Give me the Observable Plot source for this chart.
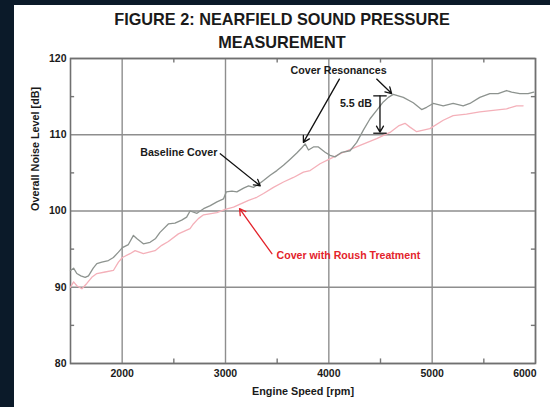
<!DOCTYPE html>
<html>
<head>
<meta charset="utf-8">
<script src="https://cdn.jsdelivr.net/npm/d3@7"></script>
<script src="https://cdn.jsdelivr.net/npm/@observablehq/plot@0.6"></script>
<style>
  html, body { margin: 0; padding: 0; background: #0b1a29; width: 550px; height: 407px; overflow: hidden; }
  #panel { position: absolute; left: 14px; top: 5px; width: 536px; height: 402px; background: #fff; }
  #title { position: absolute; left: 0; top: 3px; width: 536px; text-align: center;
           font-family: "Liberation Sans", Arial, sans-serif; font-weight: bold; font-size: 16.3px;
           line-height: 23px; color: #1a1a1a; }
  #chart { position: absolute; left: 0; top: 48px; }
  #chart svg text { font-weight: bold; }
</style>
</head>
<body>
<div id="panel">
  <div id="title">FIGURE 2: NEARFIELD SOUND PRESSURE<br>MEASUREMENT</div>
  <div id="chart"></div>
</div>
<script>
// ---- data ----
const baselineRpm = [1500,1530,1561,1600,1642,1674,1720,1755,1803,1867,1915,1964,2002,2060,2109,2141,2205,2270,2324,2366,2447,2511,2576,2624,2657,2724,2788,2853,2917,2981,3007,3062,3110,3175,3223,3271,3320,3368,3432,3497,3561,3626,3690,3739,3771,3803,3851,3899,3964,4012,4060,4125,4205,4270,4334,4399,4463,4527,4576,4624,4721,4817,4898,4946,5010,5107,5203,5300,5365,5461,5558,5638,5720,5769,5848,5928,5983];
const baselineDb  = [92.2,92.5,91.8,91.5,91.3,91.5,92.5,93.1,93.3,93.5,93.9,94.6,95.2,95.6,96.8,96.4,95.7,95.9,96.4,97.2,98.3,98.4,98.8,99.2,100.0,99.7,100.3,100.7,101.2,101.6,102.5,102.6,102.5,103.0,103.3,103.1,103.5,104.0,104.7,105.3,106.0,106.8,107.6,108.3,108.8,108.0,108.4,108.4,107.7,107.3,107.1,107.7,107.9,109.0,110.6,112.1,113.2,114.3,114.9,115.3,114.9,114.2,113.3,113.6,114.1,113.8,114.1,113.8,114.1,114.9,115.4,115.4,115.8,115.6,115.4,115.4,115.6];

const treatedRpm = [1500,1530,1561,1610,1658,1706,1755,1835,1915,1964,2002,2076,2125,2205,2318,2383,2447,2544,2608,2657,2689,2737,2788,2917,2997,3078,3142,3223,3303,3368,3464,3561,3658,3754,3819,3915,4005,4141,4302,4463,4592,4680,4737,4785,4850,4978,5107,5203,5332,5461,5590,5720,5816,5880];
const treatedDb  = [90.0,90.7,90.2,89.8,90.5,91.3,91.8,92.0,92.2,93.3,93.9,94.4,94.8,94.4,94.8,95.5,96.0,97.0,97.4,97.7,98.3,99.0,99.5,99.8,100.2,100.5,100.9,101.4,101.8,102.3,103.1,103.8,104.4,105.1,105.3,106.2,106.8,107.7,108.6,109.5,110.3,111.2,111.5,111.0,110.4,110.8,111.9,112.5,112.7,113.0,113.2,113.4,113.8,113.8];

const majorX = [2000, 3000, 4000, 5000, 6000];
const majorY = [80, 90, 100, 110, 120];
const minorX = [2500, 3500, 4500, 5500];
const minorY = [85, 95, 105, 115];

const xLabel = "Engine Speed [rpm]";
const yLabel = "Overall Noise Level [dB]";

// annotations (data coordinates)
const noteTexts = ["Cover Resonances", "5.5 dB", "Baseline Cover"];
const noteX = [4094, 4262, 2548];
const noteY = [118.4, 114.1, 107.6];
const redText = ["Cover with Roush Treatment"];
const redX = [4189];
const redY = [94.2];

const arrowX1 = [4102, 4463, 2949];
const arrowY1 = [117.3, 117.3, 107.5];
const arrowX2 = [3754, 4608, 3336];
const arrowY2 = [109.0, 115.4, 103.3];
const redArrowX1 = [3449], redArrowY1 = [94.4], redArrowX2 = [3136], redArrowY2 = [100.3];

const dimX = 4495, dimTop = 115.1, dimBottom = 110.2, capHalf = 65;

// ---- tables ----
const baseline = baselineRpm.map((r, i) => ({rpm: r, db: baselineDb[i]}));
const treated = treatedRpm.map((r, i) => ({rpm: r, db: treatedDb[i]}));
const notes = noteTexts.map((t, i) => ({t, x: noteX[i], y: noteY[i]}));
const reds = redText.map((t, i) => ({t, x: redX[i], y: redY[i]}));
const arrows = arrowX1.map((x, i) => ({x1: x, y1: arrowY1[i], x2: arrowX2[i], y2: arrowY2[i]}));
const redArrows = redArrowX1.map((x, i) => ({x1: x, y1: redArrowY1[i], x2: redArrowX2[i], y2: redArrowY2[i]}));
const caps = [dimTop, dimBottom].map(y => ({x1: dimX - capHalf, x2: dimX + capHalf, y}));

const font = "Liberation Sans, Arial, sans-serif";
const ink = "#1a1a1a";

const chart = Plot.plot({
  width: 536,
  height: 354,
  marginLeft: 56,
  marginRight: 15,
  marginTop: 5,
  marginBottom: 44,
  style: {fontFamily: font, fontSize: "10.5px", color: ink, background: "transparent"},
  x: {domain: [1500, 6000]},
  y: {domain: [80, 120]},
  marks: [
    Plot.gridX(majorX, {stroke: "#8e8e8e", strokeOpacity: 1, strokeWidth: 1.4}),
    Plot.gridY(majorY, {stroke: "#8e8e8e", strokeOpacity: 1, strokeWidth: 1.4}),
    Plot.ruleX(minorX, {y1: 80, y2: 80.6, stroke: "#777", strokeWidth: 1.4}),
    Plot.ruleX(minorX, {y1: 119.4, y2: 120, stroke: "#777", strokeWidth: 1.4}),
    Plot.ruleY(minorY, {x1: 1500, x2: 1540, stroke: "#777", strokeWidth: 1.4}),
    Plot.ruleY(minorY, {x1: 5960, x2: 6000, stroke: "#777", strokeWidth: 1.4}),
    Plot.frame({stroke: "#707070", strokeWidth: 1.6}),
    Plot.axisX(majorX.slice(0, -1), {tickSize: 0, tickPadding: 6, tickFormat: d => String(d), label: null, fontWeight: "bold", fill: ink}),
    Plot.axisX(majorX.slice(-1), {tickSize: 0, tickPadding: 6, tickFormat: d => String(d), label: null, fontWeight: "bold", fill: ink, textAnchor: "end", dx: 1}),
    Plot.axisY(majorY, {tickSize: 0, tickPadding: 4, tickFormat: d => String(d), label: null, fontWeight: "bold", fill: ink}),
    Plot.text([xLabel], {frameAnchor: "bottom", dy: 31, text: d => d, fontSize: 10.8, fontWeight: "bold", fill: ink}),
    Plot.text([yLabel], {frameAnchor: "left", dx: -35, rotate: -90, text: d => d, fontSize: 10.8, fontWeight: "bold", fill: ink}),
    Plot.line(treated, {x: "rpm", y: "db", stroke: "#f4b0b9", strokeWidth: 1.3}),
    Plot.line(baseline, {x: "rpm", y: "db", stroke: "#8d938f", strokeWidth: 1.3}),
    Plot.arrow(arrows, {x1: "x1", y1: "y1", x2: "x2", y2: "y2", stroke: "#111", strokeWidth: 1.3, headLength: 8}),
    Plot.arrow(redArrows, {x1: "x1", y1: "y1", x2: "x2", y2: "y2", stroke: "#e3232b", strokeWidth: 1.3, headLength: 8}),
    Plot.arrow([{x1: dimX, y1: dimTop, x2: dimX, y2: dimBottom + 0.15}], {x1: "x1", y1: "y1", x2: "x2", y2: "y2", stroke: "#111", strokeWidth: 1.3, headLength: 8}),
    Plot.link(caps, {x1: "x1", x2: "x2", y1: "y", y2: "y", stroke: "#111", strokeWidth: 1.3}),
    Plot.text(notes, {x: "x", y: "y", text: "t", fontSize: 10.7, fontWeight: "bold", fill: ink}),
    Plot.text(reds, {x: "x", y: "y", text: "t", fontSize: 10.6, fontWeight: "bold", fill: "#e3232b"})
  ]
});
document.getElementById("chart").appendChild(chart);
</script>
</body>
</html>
